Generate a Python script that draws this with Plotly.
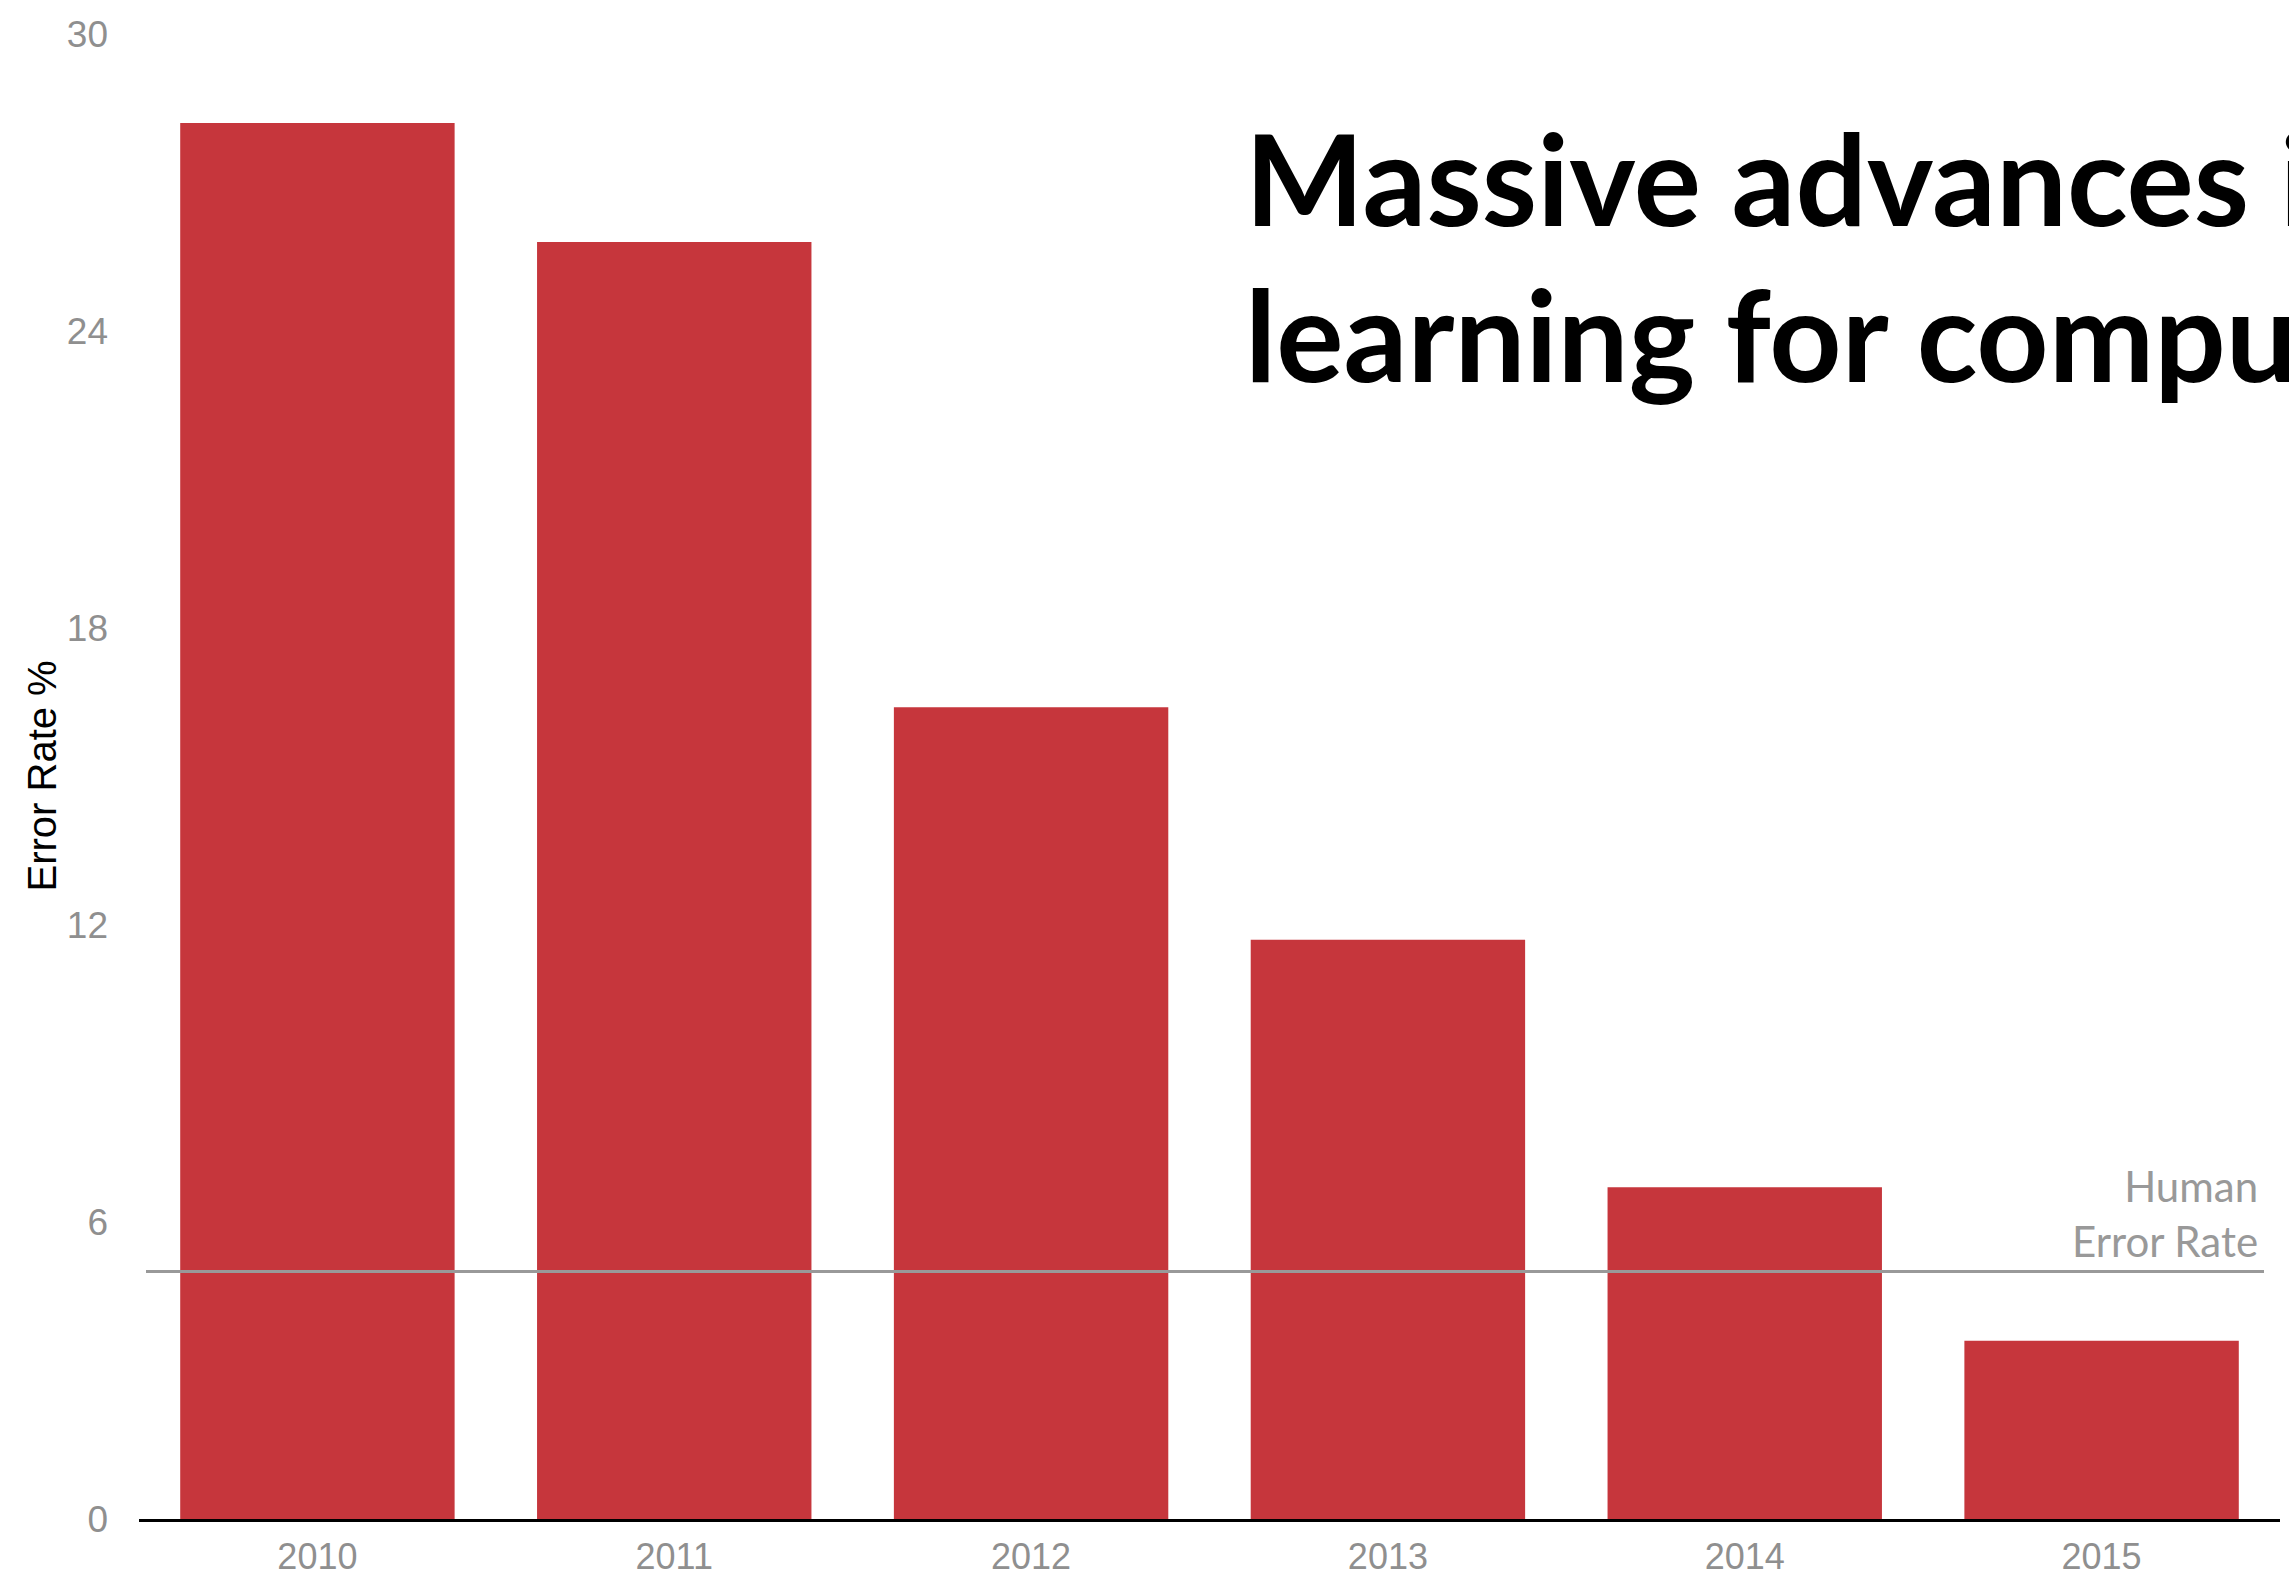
import plotly.graph_objects as go

# ---- data ----
years = ["2010", "2011", "2012", "2013", "2014", "2015"]
error_rate = [28.2, 25.8, 16.4, 11.7, 6.7, 3.6]
human_error_rate = 5.0
y_ticks = [0, 6, 12, 18, 24, 30]
title_lines = ["Massive advances in deep", "learning for computer vision"]
human_label = "Human<br>Error Rate"
y_title = "Error Rate %"

W, H = 2289, 1586
L, R, T, B = 139, 2289 - 2280, 34, 1586 - 1519
plot_w = W - L - R
plot_h = H - T - B

def px_x(px):
    return (px - L) / plot_w

def px_y(py):
    return (H - B - py) / plot_h

fig = go.Figure()
fig.add_trace(go.Bar(
    x=years, y=error_rate,
    marker=dict(color="#C6363C", line=dict(width=0)),
    hoverinfo="skip",
))

fig.update_layout(
    width=W, height=H,
    margin=dict(l=L, r=R, t=T, b=B, autoexpand=False),
    paper_bgcolor="white", plot_bgcolor="white",
    showlegend=False,
    bargap=0.231,
    font=dict(family="Liberation Sans, Arial, sans-serif"),
)
fig.update_xaxes(
    type="category", range=[-0.5, 5.5], automargin=False,
    showgrid=False, zeroline=False,
    showline=True, linecolor="black", linewidth=3,
    ticks="", ticklabelstandoff=4,
    tickfont=dict(size=36, color="#8f8f8f", family="Liberation Sans, Arial, sans-serif"),
)
fig.update_yaxes(
    range=[0, 30], tickvals=y_ticks, automargin=False,
    showgrid=False, zeroline=False, showline=False,
    ticks="", ticklabelstandoff=30,
    tickfont=dict(size=37, color="#8f8f8f", family="Liberation Sans, Arial, sans-serif"),
)

# human error line
fig.add_shape(type="line", xref="paper", yref="y",
              x0=px_x(146), x1=px_x(2264), y0=human_error_rate, y1=human_error_rate,
              line=dict(color="#999999", width=3), layer="above")

# human label
fig.add_annotation(xref="paper", yref="y", x=px_x(2260), y=human_error_rate,
                   xanchor="right", yanchor="bottom", align="right",
                   text=human_label, showarrow=False, yshift=4,
                   font=dict(family="Lato, sans-serif", size=42, color="#999999", weight=400))

# y title
fig.add_annotation(xref="paper", yref="paper", x=px_x(41), y=0.5,
                   xanchor="center", yanchor="middle", textangle=-90,
                   text=y_title, showarrow=False,
                   font=dict(family="Liberation Sans, Arial, sans-serif", size=40, color="black"))

# title lines
for i, (line, base) in enumerate(zip(title_lines, [226, 381])):
    fig.add_annotation(xref="paper", yref="paper", x=px_x(1243), y=px_y(base - 48),
                       xanchor="left", yanchor="middle", align="left",
                       text=line, showarrow=False,
                       font=dict(family="Lato, sans-serif", size=126, color="black", weight=700))

fig.write_html("out.html")
